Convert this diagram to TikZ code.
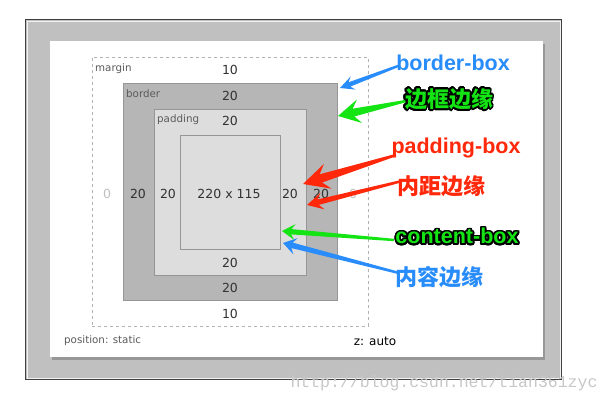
\documentclass[tikz,border=0pt]{standalone}
\usepackage{fontspec}
\setmainfont{DejaVu Sans}
\newfontfamily\annfont{Liberation Sans}
\newfontfamily\cjk{Noto Sans CJK SC}
\newfontfamily\wmfont{Liberation Mono}
\usepackage[copies]{contour}
\contournumber{24}
\usetikzlibrary{calc,shadows}
\definecolor{skblue}{RGB}{40,140,250}
\definecolor{skgreen}{RGB}{20,228,20}
\definecolor{skred}{RGB}{255,40,10}
\definecolor{frameg}{RGB}{192,192,192}
\definecolor{bordg}{RGB}{182,182,182}
\definecolor{padg}{RGB}{221,221,221}
\definecolor{edgeg}{RGB}{150,150,150}
\definecolor{numc}{RGB}{50,50,50}
\definecolor{labc}{RGB}{90,90,90}
\newcommand\skarrow[5]{%
 \pgfmathsetmacro\skbd{veclen(#4,#5)}\pgfmathsetmacro\skba{atan2(#5,#4)}%
 \pgfmathsetmacro\sksd{veclen(0.72*#4,0.33*#5)}\pgfmathsetmacro\sksa{atan2(0.33*#5,0.72*#4)}%
 \fill[#1] ($(#2)!1.2pt!-90:(#3)$) -- ($(#3)!\sksd pt!\sksa:(#2)$) -- ($(#3)!\skbd pt!\skba:(#2)$) -- (#3)
   -- ($(#3)!\skbd pt!-\skba:(#2)$) -- ($(#3)!\sksd pt!-\sksa:(#2)$) -- ($(#2)!1.2pt!90:(#3)$) -- cycle;}
\newcommand\greenout[1]{\contourlength{1.7pt}\contour{black}{\textcolor{skgreen}{#1}}}
\begin{document}
\begin{tikzpicture}[x=1pt,y=-1pt,
  boxlayer/.style={draw=edgeg,line width=0.8pt,inner sep=0pt,anchor=north west},
  num/.style={text=numc,font=\fontsize{12.5}{14}\selectfont,inner sep=0pt},
  lab/.style={text=labc,font=\fontsize{10.3}{12}\selectfont,inner sep=0pt,anchor=west},
  zero/.style={text=black!25,font=\fontsize{12.5}{14}\selectfont,inner sep=0pt},
  annlat/.style={font=\annfont\bfseries\fontsize{21.5}{24}\selectfont,inner sep=0pt},
  anncjk/.style={font=\cjk\bfseries\fontsize{22}{24}\selectfont,inner sep=0pt}]
\useasboundingbox (0,0) rectangle (611,402);
% frame
\node[boxlayer,draw=black!75,fill=frameg,line width=1pt,minimum width=536,minimum height=360] (frame) at (25,19) {};
\node[boxlayer,draw=black!5,fill=none,line width=1pt,minimum width=533,minimum height=357] (frameinner) at (26.5,20.5) {};
\node[boxlayer,draw=none,fill=white,minimum width=493,minimum height=316,
  drop shadow={shadow xshift=2pt,shadow yshift=-3pt,opacity=0.45,fill=black!60}] (panel) at (50,41) {};
% boxes
\node[boxlayer,draw=black!30,dash pattern=on 3pt off 3pt,line width=0.8pt,minimum width=276,minimum height=269] (margin) at (92,57) {};
\node[boxlayer,fill=bordg,minimum width=214,minimum height=217] (border) at (123,83) {};
\node[boxlayer,fill=padg,minimum width=152,minimum height=166] (padding) at (154,109) {};
\node[boxlayer,fill=padg,minimum width=100,minimum height=114] (content) at (180,135) {};
% labels
\node[lab] (lmargin) at (95,69) {margin};
\node[lab] (lborder) at (126,94) {border};
\node[lab] (lpadding) at (157,120) {padding};
\node[num] (mt) at (230,70) {10};
\node[num] (bt) at (230,96) {20};
\node[num] (pt) at (230,121) {20};
\node[zero] (ml) at (107,194) {0};
\node[num] (bl) at (138,194) {20};
\node[num] (pl) at (168,194) {20};
\node[num] (size) at (229,194) {220 x 115};
\node[num] (pr) at (290,194) {20};
\node[num] (br) at (321,194) {20};
\node[zero] (mr) at (353,194) {0};
\node[num] (pb) at (230,263) {20};
\node[num] (bb) at (230,288) {20};
\node[num] (mb) at (230,314) {10};
\node[lab] (pos) at (64,341) {position: static};
\node[num,text=black,font=\fontsize{12}{14}\selectfont] (z) at (375,341) {z: auto};
% arrows
\coordinate (t1) at (398,66);  \coordinate (h1) at (340,88);
\coordinate (t2) at (406,101); \coordinate (h2) at (338,116);
\coordinate (t3) at (396,155); \coordinate (h3) at (303,184);
\coordinate (t4) at (402,181); \coordinate (h4) at (307,205);
\coordinate (t5) at (394,240); \coordinate (h5) at (282,231);
\coordinate (t6) at (399,273); \coordinate (h6) at (283,243);
\skarrow{skblue}{t1}{h1}{14}{7}
\skarrow{skgreen}{t2}{h2}{22}{12}
\skarrow{skred}{t3}{h3}{26}{13}
\skarrow{skred}{t4}{h4}{16}{8.5}
\skarrow{skgreen}{t5}{h5}{13}{8}
\skarrow{skblue}{t6}{h6}{13}{8.5}
% watermark
\node[font=\wmfont\fontsize{16.5}{18}\selectfont,text=black!22,inner sep=0pt] (wm) at (444,383) {http://blog.csdn.net/tian361zyc};
% annotations
\node[annlat,text=skblue] (abb) at (453,63) {border-box};
\node[annlat,text=skred] (apb) at (456,148) {padding-box};
\node[anncjk,text=skred] (apbz) at (441,186) {内距边缘};
\node[anncjk,text=skblue] (acbz) at (439,277) {内容边缘};
\node[anncjk] (abbz) at (449,100) {\greenout{边框边缘}};
\node[annlat] (acb) at (457,237) {\greenout{content-box}};
\end{tikzpicture}
\end{document}
